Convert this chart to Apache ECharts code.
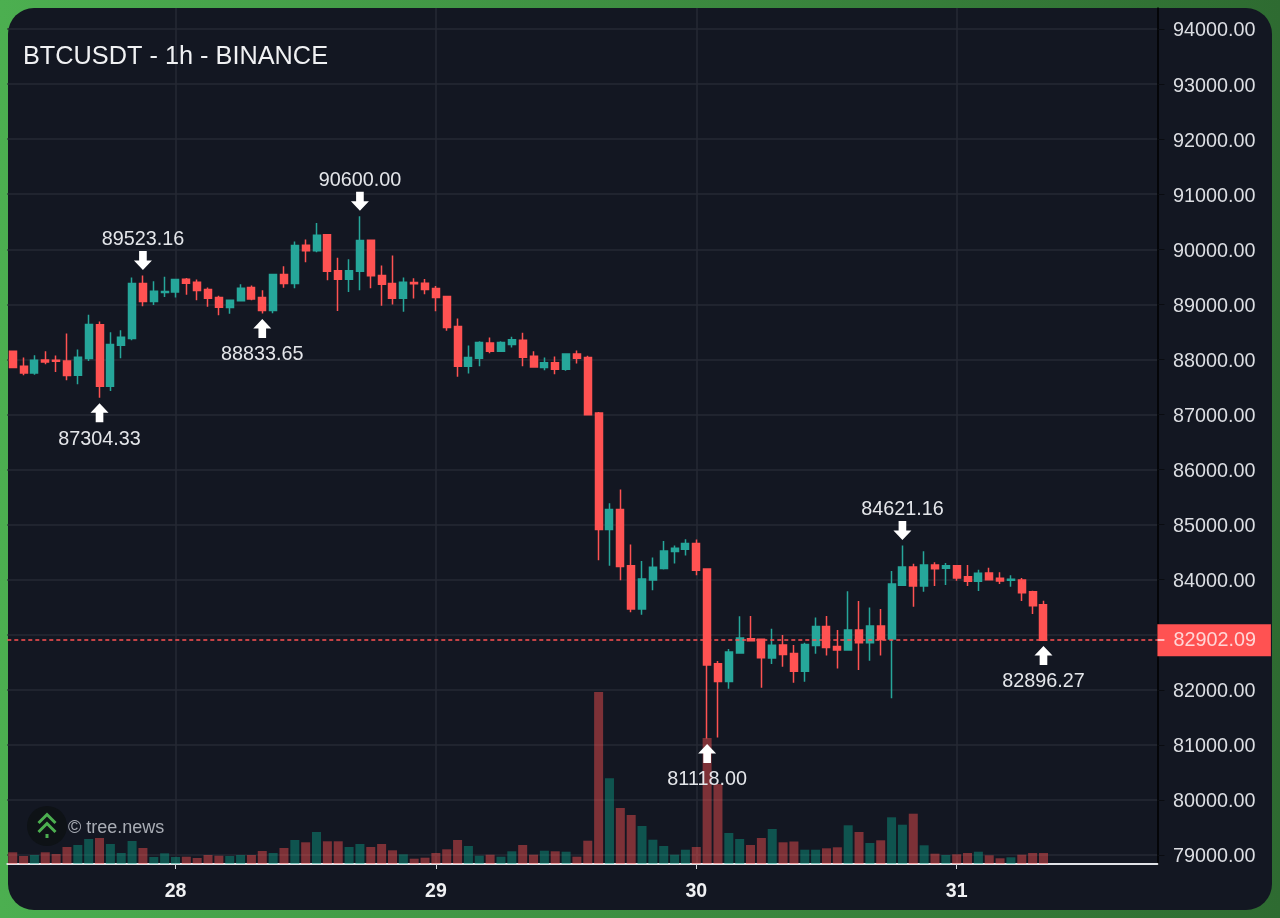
<!DOCTYPE html>
<html>
<head>
<meta charset="utf-8">
<title>BTCUSDT - 1h - BINANCE</title>
<script src="https://cdn.jsdelivr.net/npm/echarts@6/dist/echarts.min.js"></script>
<style>
    html, body { margin: 0; padding: 0; width: 1280px; height: 918px; overflow: hidden; }
    body { background: linear-gradient(to right, #4caf50, #2e6b31); position: relative; }
    #panel { position: absolute; left: 8px; top: 8px; width: 1264px; height: 902px; border-radius: 26px; background: #131722; }
    #chart { position: absolute; left: 0; top: 0; width: 1280px; height: 918px; }
</style>
</head>
<body>
<div id="panel"></div>
<div id="chart"></div>
<script>
// velas de 1h, la primera es el 27 a las 09:00
const opens = [88149, 87877, 87755, 87991, 87985, 87973, 87713, 88016, 88627, 87513, 88258, 88379, 89378, 89051, 89214, 89226,
    89456, 89402, 89269, 89123, 88942, 89063, 89305, 89123, 88887, 89541, 89378, 90074, 89971, 90262, 89608, 89456,
    89602, 90165, 89523, 89378, 89111, 89396, 89384, 89287, 89142, 88597, 87877, 88022, 88300, 88149, 88270, 88349,
    88058, 87852, 87937, 87822, 88100, 88034, 87025, 84910, 85273, 84255, 83468, 83995, 84201, 84510, 84552, 84655,
    84195, 82473, 82152, 82668, 82928, 82916, 82577, 82813, 82661, 82339, 82806, 83151, 82788, 82721, 83085, 82854,
    83158, 82921, 83897, 84230, 83885, 84267, 84206, 84254, 84054, 83970, 84121, 84024, 83988, 83994, 83782, 83545];
const closes = [87852, 87755, 87985, 87955, 87967, 87707, 88040, 88633, 87513, 88270, 88403, 89378, 89051, 89238, 89232, 89450,
    89384, 89250, 89111, 88948, 89075, 89293, 89099, 88887, 89541, 89378, 90068, 89971, 90255, 89602, 89456, 89608,
    90159, 89517, 89366, 89111, 89402, 89372, 89269, 89123, 88578, 87877, 88034, 88306, 88149, 88306, 88355, 88040,
    87864, 87937, 87822, 88100, 88022, 86993, 84910, 85273, 84237, 83468, 84013, 84225, 84522, 84570, 84655, 84170,
    82449, 82152, 82686, 82940, 82892, 82583, 82807, 82643, 82339, 82824, 83151, 82770, 82721, 83085, 82854, 83158,
    82915, 83921, 84230, 83885, 84267, 84200, 84254, 84030, 83970, 84115, 84000, 83976, 84006, 83763, 83527, 82902.09];
const lows = [87840, 87713, 87719, 87913, 87773, 87622, 87549, 87973, 87304.33, 87428, 88022, 88349, 88966, 88990, 89135, 89123,
    89172, 89075, 88954, 88803, 88827, 89051, 89075, 88833.65, 88840, 89299, 89293, 89765, 89947, 89438, 88881, 89226,
    89257, 89293, 88972, 88996, 88863, 89105, 89184, 88875, 88518, 87683, 87743, 87877, 88113, 88137, 88216, 87877,
    87852, 87804, 87731, 87792, 87925, 86990, 84352, 84255, 83989, 83407, 83365, 83807, 84183, 84292, 84437, 84080,
    81118, 81135, 82019, 82660, 82880, 82037, 82468, 82419, 82127, 82146, 82655, 82624, 82388, 82715, 82358, 82527,
    82624, 81849, 83890, 83509, 83782, 83885, 83903, 83982, 83885, 83794, 83994, 83921, 83873, 83612, 83376, 82896.27];
const highs = [88160, 88034, 88076, 88149, 88070, 88469, 88179, 88809, 88687, 88494, 88530, 89486, 89523.16, 89420, 89499, 89455,
    89480, 89450, 89305, 89154, 89087, 89366, 89342, 89257, 89550, 89692, 90140, 90177, 90479, 90270, 89844, 89819,
    90600, 90175, 89704, 89886, 89487, 89474, 89462, 89335, 89154, 88742, 88252, 88330, 88397, 88330, 88409, 88482,
    88149, 88034, 88052, 88106, 88161, 88064, 87043, 85389, 85637, 84637, 84340, 84401, 84704, 84619, 84734, 84728,
    84200, 82522, 82740, 83334, 83340, 82920, 83110, 82995, 82812, 82855, 83315, 83339, 83085, 83788, 83612, 83497,
    83467, 84157, 84621.16, 84291, 84515, 84315, 84303, 84260, 84267, 84182, 84218, 84133, 84079, 84030, 83800, 83618];
const volumes = [468, 320, 360, 468, 400, 680, 760, 1000, 1040, 800, 440, 920, 640, 280, 428, 280,
    292, 240, 360, 332, 320, 360, 360, 520, 440, 640, 960, 868, 1280, 908, 908, 680,
    800, 680, 800, 548, 388, 212, 252, 440, 588, 960, 720, 332, 372, 292, 508, 760,
    372, 532, 508, 492, 292, 932, 6880, 3428, 2240, 1960, 1520, 972, 720, 372, 572, 680,
    5040, 3200, 1240, 1000, 760, 1040, 1400, 868, 900, 572, 572, 628, 668, 1548, 1280, 840,
    948, 1868, 1572, 2012, 748, 412, 360, 388, 440, 492, 348, 228, 268, 372, 440, 440];

const priceTicks = [79000, 80000, 81000, 82000, 83000, 84000, 85000, 86000, 87000, 88000, 89000, 90000, 91000, 92000, 93000, 94000];
const lastPrice = 82902.09;

// máximos y mínimos señalados con flecha
const highMarks = [12, 32, 82];
const lowMarks = [8, 23, 64, 95];

// 96 velas y el hueco de la derecha
const totalSlots = 106;
const firstDay = 27;
const firstHour = 9;

const COLOR_UP = '#26a69a';
const COLOR_DOWN = '#ff5252';
const TEXT = '#dcdee3';
const FONT = '"Liberation Sans", Arial, sans-serif';

const categories = [];
for (let i = 0; i < totalSlots; i++) {
    const total = firstHour + i;
    const day = firstDay + Math.floor(total / 24);
    const hour = total % 24;
    categories.push(hour === 0 ? String(day) : `${day} ${hour}:00`);
}
const isDayStart = (index, value) => !value.includes(' ');

const candleData = opens.map((o, i) => [o, closes[i], lows[i], highs[i]]);
const volumeData = volumes.map((v, i) => ({
    value: v,
    itemStyle: { color: closes[i] >= opens[i] ? 'rgba(10,160,135,0.45)' : 'rgba(255,82,82,0.45)' }
}));

const ARROW_DOWN = 'path://M4.6 0H11.4V9H16L8 18L0 9H4.6Z';
const ARROW_UP = 'path://M8 0L16 9H11.4V18H4.6V9H0Z';

function marca(i, esMaximo) {
    const precio = esMaximo ? highs[i] : lows[i];
    return {
        coord: [categories[i], precio],
        value: precio.toFixed(2),
        symbol: esMaximo ? ARROW_DOWN : ARROW_UP,
        symbolSize: [18, 19],
        symbolOffset: [0, esMaximo ? -15 : 15],
        itemStyle: { color: '#ffffff' },
        label: {
            show: true,
            position: esMaximo ? 'top' : 'bottom',
            distance: esMaximo ? 1 : 7,
            color: '#e4e6ea',
            fontFamily: FONT,
            fontSize: 19.8,
            formatter: precio.toFixed(2)
        }
    };
}

const chart = echarts.init(document.getElementById('chart'), null, { renderer: 'canvas' });

chart.setOption({
    animation: false,
    backgroundColor: 'transparent',
    title: {
        text: 'BTCUSDT - 1h - BINANCE',
        left: 18,
        top: 37,
        textStyle: { color: '#f0f1f3', fontFamily: FONT, fontSize: 25.3, fontWeight: 'normal', lineHeight: 30 }
    },
    grid: [
        { left: 7.3, width: 1150.1, top: 8, bottom: 54 },
        { left: 7.3, width: 1150.1, top: 689, height: 175 }
    ],
    xAxis: [
        {
            type: 'category',
            gridIndex: 0,
            data: categories,
            axisLine: { show: false },
            axisTick: { show: false },
            axisLabel: { show: false },
            splitLine: { show: true, interval: isDayStart, alignWithLabel: true, lineStyle: { color: '#262a35', width: 1.5 } }
        },
        {
            type: 'category',
            gridIndex: 1,
            data: categories,
            axisLine: { lineStyle: { color: '#e1e3e8', width: 2 } },
            axisTick: { show: true, interval: isDayStart, alignWithLabel: true, length: 5, lineStyle: { color: '#d5d7dc' } },
            axisLabel: {
                interval: isDayStart,
                margin: 18,
                color: '#f0f1f3',
                fontFamily: FONT,
                fontSize: 19.5,
                fontWeight: 'bold'
            },
            splitLine: { show: false }
        }
    ],
    yAxis: [
        {
            type: 'value',
            gridIndex: 0,
            position: 'right',
            min: 78837,
            max: 94381,
            axisLine: { show: true, lineStyle: { color: '#000000', width: 1.5 } },
            axisTick: { show: true, customValues: priceTicks, length: 7, lineStyle: { color: '#0a0c11' } },
            axisLabel: {
                customValues: priceTicks,
                margin: 15.5,
                formatter: v => `{p|${v.toFixed(2)}}`,
                rich: {
                    p: { padding: [4, 0, 0, 0], color: TEXT, fontFamily: FONT, fontSize: 19.8 }
                }
            },
            splitLine: { show: true, lineStyle: { color: '#262a35', width: 1.5 } }
        },
        {
            type: 'value',
            gridIndex: 1,
            min: 0,
            max: 7000,
            show: false
        },
        {
            // marca blanca del último precio, encima de la etiqueta roja
            type: 'value',
            gridIndex: 0,
            position: 'right',
            min: 78837,
            max: 94381,
            z: 10,
            axisLine: { show: false },
            axisTick: { show: true, customValues: [lastPrice], length: 7, lineStyle: { color: '#ffe3e3', width: 1.5 } },
            axisLabel: { show: false },
            splitLine: { show: false }
        }
    ],
    series: [
        {
            name: 'Volumen',
            type: 'bar',
            xAxisIndex: 1,
            yAxisIndex: 1,
            barWidth: 9,
            z: 1,
            data: volumeData
        },
        {
            name: 'BTCUSDT',
            type: 'candlestick',
            xAxisIndex: 0,
            yAxisIndex: 0,
            barWidth: 7.5,
            z: 3,
            itemStyle: {
                color: COLOR_UP,
                color0: COLOR_DOWN,
                borderColor: COLOR_UP,
                borderColor0: COLOR_DOWN,
                borderWidth: 1.5
            },
            data: candleData,
            markPoint: {
                z: 6,
                data: highMarks.map(i => marca(i, true)).concat(lowMarks.map(i => marca(i, false)))
            },
            markLine: {
                silent: true,
                symbol: 'none',
                z: 5,
                lineStyle: { color: COLOR_DOWN, type: [4, 3], width: 1.5 },
                label: {
                    show: true,
                    position: 'end',
                    distance: 0,
                    formatter: lastPrice.toFixed(2),
                    color: '#ffd6d6',
                    backgroundColor: COLOR_DOWN,
                    fontFamily: FONT,
                    fontSize: 19.8,
                    padding: [7, 15, 5, 16]
                },
                data: [{ yAxis: lastPrice }]
            }
        }
    ],
    graphic: [
        { type: 'circle', shape: { cx: 47, cy: 826, r: 20 }, style: { fill: '#0e1216' }, z: 2 },
        { type: 'polyline', shape: { points: [[38.5, 823], [47, 814.5], [55.5, 823]] }, style: { stroke: '#4caf50', lineWidth: 3, fill: null }, z: 3 },
        { type: 'polyline', shape: { points: [[38.5, 832], [47, 823.5], [55.5, 832]] }, style: { stroke: '#4caf50', lineWidth: 3, fill: null }, z: 3 },
        { type: 'rect', shape: { x: 45.5, y: 834, width: 3, height: 4 }, style: { fill: '#4caf50' }, z: 3 },
        { type: 'text', x: 68, y: 819, style: { text: '© tree.news', fill: '#a9adb5', font: '18px "Liberation Sans", Arial, sans-serif' }, z: 3 }
    ]
});
</script>
</body>
</html>
